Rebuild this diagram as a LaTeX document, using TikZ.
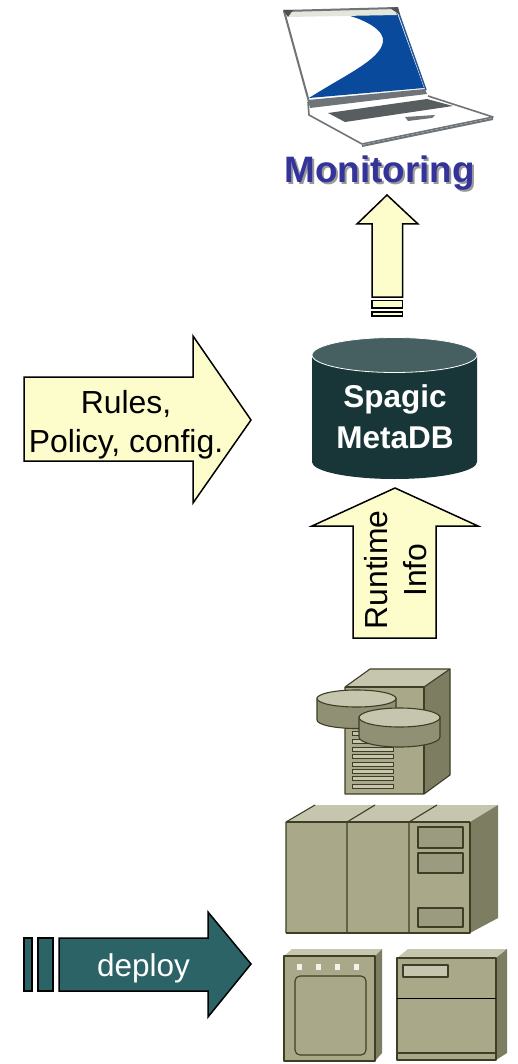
\documentclass[tikz,border=0pt]{standalone}
\usepackage{fontspec}
\setmainfont{Liberation Sans}
\definecolor{cream}{HTML}{FDFDCC}
\definecolor{dbbody}{HTML}{183637}
\definecolor{dbtop}{HTML}{465F60}
\definecolor{deployc}{HTML}{2B6366}
\definecolor{mon}{HTML}{333399}
\definecolor{front}{HTML}{A9A98A}
\definecolor{topf}{HTML}{C6C6AF}
\definecolor{sidef}{HTML}{7D7D62}
\definecolor{edge}{HTML}{3E3E26}
\definecolor{lapblue}{HTML}{0A4A9C}
\definecolor{lapgrey}{HTML}{6E7478}
\tikzset{
  arrowshape/.style={draw=black,line width=1.5pt,line join=miter,fill=cream},
  label/.style={font=\fontsize{31.9}{39}\selectfont,align=center,inner sep=0pt},
  dblabel/.style={font=\fontsize{31.5}{41}\selectfont\bfseries,text=white,align=center,inner sep=0pt},
  hw/.style={draw=edge,line width=1.1pt,line join=round},
  slot/.style={draw=edge,line width=1pt,fill=topf}
}
\begin{document}
\begin{tikzpicture}[x=1pt,y=-1pt]
\useasboundingbox[fill=white] (0,0) rectangle (518,1064);
% laptop
\fill[white] (283,10) -- (398,7) -- (425,90) -- (308,100) -- cycle;
\fill[lapblue] (347,15) .. controls (365,20) and (385,30) .. (383,42) .. controls (380,60) and (345,75) .. (309,98) -- (424,88) -- (397,13) -- cycle;
\fill[topf!45!white] (287,11) -- (394,9) -- (397,15) -- (288,17) -- cycle;
\draw[lapgrey,line width=2pt,line join=round] (284,11) -- (397,8);
\draw[lapgrey,line width=2pt,line join=round] (284,11) -- (309,102);
\draw[lapblue!70!lapgrey,line width=1.5pt] (397,8) -- (426,90);
\fill[lapgrey!70!black] (283,10) -- (293,10) -- (288,17) -- cycle;
\fill[lapgrey!70!black] (390,8) -- (398,7) -- (400,15) -- cycle;
\fill[lapgrey] (308,100) -- (425,89) -- (427,94) -- (310,108) -- cycle;
\fill[white] (310,109) -- (427,95) -- (493,117) -- (362,144) -- cycle;
\draw[lapgrey,line width=1.6pt,line join=round] (308,102) -- (309,115) -- (362,144) -- (493,117) -- (428,96);
\fill[lapgrey!80!black] (328,113) -- (427,99) -- (453,106) -- (345,122) -- cycle;
\fill[lapgrey] (405,117) -- (435,115) -- (432,118) -- (408,121) -- cycle;
\draw[lapgrey,line width=2pt] (362,146) -- (493,119);
% monitoring title
\node[font=\fontsize{36.8}{40}\selectfont\bfseries,text=black!40,inner sep=0pt] (monshadow) at (381.5,175) {Monitoring};
\node[font=\fontsize{36.8}{40}\selectfont\bfseries,text=mon,inner sep=0pt] (montitle) at (379.5,173) {Monitoring};
% up arrow
\draw[arrowshape] (387,195) -- (418,224) -- (402.5,224) -- (402.5,297) -- (372,297) -- (372,224) -- (357,224) -- cycle;
\draw[arrowshape] (372,300.5) rectangle (402.5,308);
\draw[arrowshape] (372,312) rectangle (402.5,316);
% cylinder
\path[fill=dbbody] (312,355) -- (312,462) arc[start angle=180,end angle=360,x radius=82.5,y radius=-17] -- (477,355) -- cycle;
\draw[white,fill=dbtop,line width=0.8pt] (394.5,355) ellipse[x radius=82.5,y radius=17.5];
\node[dblabel] (db) at (395,417) {Spagic\\MetaDB};
% rules arrow
\draw[arrowshape] (24,377) -- (193,377) -- (193,336) -- (251,420) -- (193,503) -- (193,461) -- (24,461) -- cycle;
\node[label] (rules) at (126,424.5) {Rules,\\Policy, config.};
% runtime arrow
\draw[arrowshape] (395,488) -- (478,526) -- (436,526) -- (436,638) -- (353,638) -- (353,526) -- (312,526) -- cycle;
\node[label,rotate=90] (runtime) at (395.5,570) {Runtime\\Info};
% tower
\fill[topf] (345,687) -- (370,669) -- (450,669) -- (424,687) -- cycle;
\fill[front] (345,687) rectangle (424,794);
\fill[sidef] (424,687) -- (450,669) -- (450,775) -- (424,794) -- cycle;
\draw[hw] (345,794) -- (345,687) -- (370,669) -- (450,669) -- (450,775) -- (424,794) -- cycle;
\draw[hw] (345,687) -- (424,687) -- (424,794);
\draw[hw] (424,687) -- (450,669);
\foreach \yy in {731,739,747,754,762,769,776,784}{
  \draw[slot] (352,\yy) rectangle (393,\yy+4);
}
\draw[hw,fill=front!85!black] (317,698) -- (317,720) arc[start angle=180,end angle=360,x radius=39.5,y radius=-8.5] -- (396,698) -- cycle;
\draw[hw,fill=topf] (356.5,698.5) ellipse[x radius=39.5,y radius=8.5];
\draw[hw,fill=front!85!black] (359,717) -- (359,737) arc[start angle=180,end angle=360,x radius=40.5,y radius=-10] -- (440,717) -- cycle;
\draw[hw,fill=topf] (399.5,717.5) ellipse[x radius=40.5,y radius=9.5];
% rack
\fill[topf] (286,822) -- (315,805) -- (498,805) -- (470,822) -- cycle;
\fill[front] (286,822) rectangle (470,933);
\fill[sidef] (470,822) -- (498,805) -- (498,918) -- (470,933) -- cycle;
\draw[hw] (286,933) -- (286,822) -- (315,805);
\draw[hw] (286,822) -- (470,822);
\draw[hw] (286,933) -- (470,933) -- (470,822);
\draw[hw] (347,933) -- (347,822) -- (375,805);
\draw[hw] (409,933) -- (409,822) -- (437,805);
\draw[hw,fill=front!92!black] (418,827) rectangle (463,848);
\draw[hw,fill=front!92!black] (418,853) rectangle (463,873);
\draw[hw,fill=front!92!black] (418,908) rectangle (463,927);
% left cabinet
\fill[topf] (284,956) -- (292,949) -- (382,949) -- (375,956) -- cycle;
\fill[front] (284,956) rectangle (375,1061);
\fill[sidef] (375,956) -- (382,949) -- (382,1053) -- (375,1061) -- cycle;
\draw[hw] (375,956) -- (284,956) -- (284,1061) -- (375,1061) -- cycle;
\draw[hw,rounded corners=5pt] (295,976) rectangle (366,1055);
\foreach \xx in {299,318,337,356}{
  \fill[white!85!front] (\xx-2.5,964) rectangle (\xx+2.5,970);
}
% right cabinet
\fill[topf] (397,958) -- (408,949) -- (507,949) -- (496,958) -- cycle;
\fill[front] (397,958) rectangle (496,1060);
\fill[sidef] (496,958) -- (507,949) -- (507,1053) -- (496,1060) -- cycle;
\draw[hw] (496,958) -- (397,958) -- (397,1060) -- (496,1060) -- cycle;
\draw[black,line width=1.5pt] (397,998.5) -- (496,998.5);
\draw[hw] (397,1053) -- (496,1053);
\draw[hw,fill=topf] (403,965) rectangle (448,977);
% deploy arrow
\draw[arrowshape,fill=deployc] (24,938) rectangle (32,991);
\draw[arrowshape,fill=deployc] (38,938) rectangle (53,991);
\draw[arrowshape,fill=deployc] (59,938) -- (208,938) -- (208,912) -- (251,964) -- (208,1017) -- (208,991) -- (59,991) -- cycle;
\node[font=\fontsize{31.5}{36}\selectfont,text=white,inner sep=0pt] (deploy) at (143.5,968) {deploy};
\end{tikzpicture}
\end{document}
